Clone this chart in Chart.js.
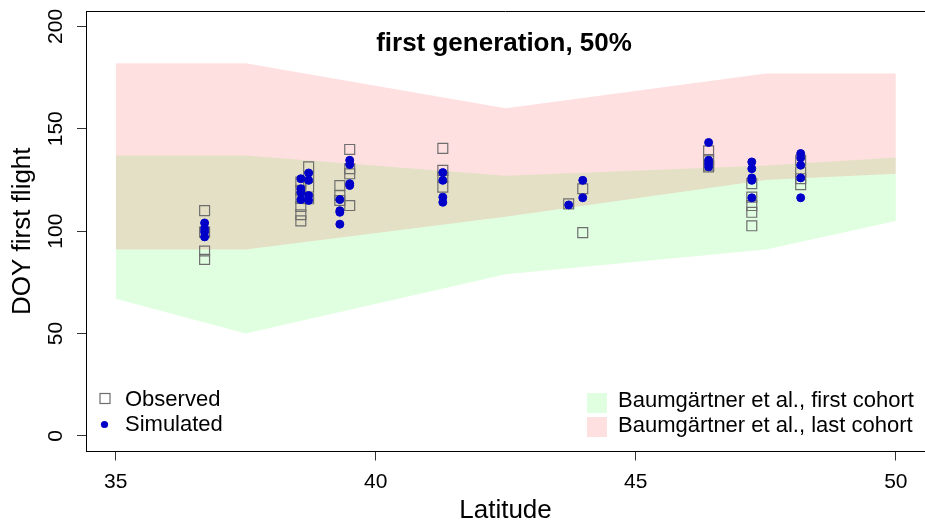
<!DOCTYPE html>
<html lang="en">
<head>
    <meta charset="UTF-8">
    <title>first generation, 50%</title>
    <script src="https://cdn.jsdelivr.net/npm/chart.js"></script>
    <style>
        body { margin: 0; background: #fff; }
        #wrap { width: 925px; height: 526px; position: relative; }
    </style>
</head>
<body>
    <div id="wrap"><canvas id="flightChart"></canvas></div>

    <script>
        // Baumgärtner et al. bands (latitude vs DOY)
        const bandLat = [35, 37.5, 42.5, 47.5, 50];
        const firstLow = [67, 50, 79, 91, 105];
        const firstHigh = [137, 137, 127, 132, 136];
        const lastLow = [91, 91, 107, 125, 128];
        const lastHigh = [182, 182, 160, 177, 177];

        // sites (latitude) with observed and simulated DOY
        const siteLat = [36.71, 38.56, 38.71, 39.31, 39.5, 41.29, 43.71, 43.98, 46.4, 47.23, 48.17];
        const observed = [
            [110, 99.5, 90.3, 86.2],
            [124, 120, 116, 112, 108, 105],
            [131.4, 126.5, 121.5, 115.8],
            [122.3, 117.4, 115],
            [139.9, 130.5, 128, 112.5],
            [140.4, 129.7, 126.4, 121.5],
            [113.3],
            [120.7, 99.3],
            [139.2, 135, 132.2, 131.4],
            [123.2, 116.6, 112.5, 109.2, 102.6],
            [134.6, 128.9, 125.6, 122.7]
        ];
        const simulated = [
            [104, 101.3, 99.7, 97.2],
            [125.6, 120.7, 119, 115.4],
            [128.4, 124.8, 117.4, 115],
            [115.4, 110, 109.2, 103.4],
            [134.6, 132.5, 123.2, 122.3],
            [128.6, 124.8, 116.6, 114.1],
            [112.8],
            [124.8, 116.3],
            [143.3, 134.6, 133, 131.4],
            [133.8, 130.5, 126, 124.8, 116.3],
            [137.9, 135.8, 132.2, 126, 116.3]
        ];

        const xTicks = [35, 40, 45, 50];
        const yTicks = [0, 50, 100, 150, 200];

        const FONT = "'Liberation Sans', Arial, sans-serif";
        const GREEN = "rgba(0, 255, 0, 0.12)";
        const RED = "rgba(255, 0, 0, 0.12)";

        const band = (ys) => bandLat.map((x, i) => ({ x: x, y: ys[i] }));
        const points = (groups) => {
            const out = [];
            groups.forEach((g, i) => g.forEach(v => out.push({ x: siteLat[i], y: v })));
            return out;
        };

        // title, legends and the top of the box, drawn inside the plot like R does
        const overlay = {
            id: "overlay",
            afterDraw(chart) {
                const ctx = chart.ctx;
                const a = chart.chartArea;
                ctx.save();
                ctx.strokeStyle = "#000";
                ctx.lineWidth = 1;
                ctx.beginPath();
                ctx.moveTo(a.left, a.top + 0.5);
                ctx.lineTo(a.right, a.top + 0.5);
                ctx.stroke();

                ctx.fillStyle = "#000";
                ctx.textBaseline = "middle";
                ctx.textAlign = "center";
                ctx.font = "bold 26px " + FONT;
                ctx.fillText("first generation, 50%", 504, 44);

                // left legend
                ctx.strokeStyle = "#6e6e6e";
                ctx.lineWidth = 1.2;
                ctx.strokeRect(100, 393.5, 10, 10);
                ctx.fillStyle = "#0000c8";
                ctx.beginPath();
                ctx.arc(104.5, 424.5, 3.6, 0, Math.PI * 2);
                ctx.fill();

                ctx.fillStyle = "#000";
                ctx.textAlign = "left";
                ctx.font = "22px " + FONT;
                ctx.fillText("Observed", 125, 400);
                ctx.fillText("Simulated", 125, 425);

                // right legend
                ctx.fillStyle = GREEN;
                ctx.fillRect(587, 393, 20, 20);
                ctx.fillStyle = RED;
                ctx.fillRect(587, 417, 20, 20);
                ctx.fillStyle = "#000";
                ctx.fillText("Baumgärtner et al., first cohort", 618, 401);
                ctx.fillText("Baumgärtner et al., last cohort", 618, 426);
                ctx.restore();
            }
        };

        const ctx = document.getElementById("flightChart").getContext("2d");
        new Chart(ctx, {
            type: "line",
            data: {
                datasets: [
                    {
                        label: "Simulated",
                        data: points(simulated),
                        showLine: false,
                        pointStyle: "circle",
                        pointRadius: 4,
                        pointBackgroundColor: "#0000c8",
                        pointBorderColor: "#0000c8",
                        pointBorderWidth: 1,
                        order: 0
                    },
                    {
                        label: "Observed",
                        data: points(observed),
                        showLine: false,
                        pointStyle: "rect",
                        pointRadius: 7,
                        pointBackgroundColor: "rgba(0,0,0,0)",
                        pointBorderColor: "#6e6e6e",
                        pointBorderWidth: 1.2,
                        order: 1
                    },
                    {
                        label: "last low",
                        data: band(lastLow),
                        borderWidth: 0,
                        pointRadius: 0,
                        fill: false,
                        order: 2
                    },
                    {
                        label: "Baumgärtner et al., last cohort",
                        data: band(lastHigh),
                        borderWidth: 0,
                        pointRadius: 0,
                        backgroundColor: RED,
                        fill: { target: 2 },
                        order: 3
                    },
                    {
                        label: "first low",
                        data: band(firstLow),
                        borderWidth: 0,
                        pointRadius: 0,
                        fill: false,
                        order: 4
                    },
                    {
                        label: "Baumgärtner et al., first cohort",
                        data: band(firstHigh),
                        borderWidth: 0,
                        pointRadius: 0,
                        backgroundColor: GREEN,
                        fill: { target: 4 },
                        order: 5
                    }
                ]
            },
            options: {
                responsive: true,
                maintainAspectRatio: false,
                animation: false,
                layout: {
                    autoPadding: false,
                    padding: { top: 11, right: 0, bottom: 0, left: 0 }
                },
                plugins: {
                    legend: { display: false },
                    tooltip: { enabled: false }
                },
                scales: {
                    x: {
                        type: "linear",
                        min: 34.43,
                        max: 50.56,
                        afterBuildTicks: (s) => { s.ticks = xTicks.map(v => ({ value: v })); },
                        afterFit: (s) => {
                            s.height = 74.5;
                            s.paddingLeft = 0;
                            s.paddingRight = 0;
                        },
                        grid: { drawOnChartArea: false, tickLength: 9, color: "#333" },
                        border: { display: true, color: "#000", width: 1 },
                        ticks: {
                            color: "#000",
                            font: { family: FONT, size: 21 },
                            padding: 9,
                            maxRotation: 0
                        },
                        title: {
                            display: true,
                            text: "Latitude",
                            color: "#000",
                            font: { family: FONT, size: 26 },
                            padding: { top: 0, bottom: 0 }
                        }
                    },
                    y: {
                        type: "linear",
                        min: -7.6,
                        max: 207.5,
                        afterBuildTicks: (s) => { s.ticks = yTicks.map(v => ({ value: v })); },
                        afterFit: (s) => {
                            s.width = 86;
                            s.paddingTop = 0;
                            s.paddingBottom = 0;
                        },
                        grid: { drawOnChartArea: false, tickLength: 9, color: "#333" },
                        border: { display: true, color: "#000", width: 1 },
                        ticks: {
                            color: "#000",
                            font: { family: FONT, size: 21 },
                            padding: 3,
                            minRotation: 90,
                            maxRotation: 90,
                            crossAlign: "center"
                        },
                        title: {
                            display: true,
                            text: "DOY first flight",
                            color: "#000",
                            font: { family: FONT, size: 26 },
                            padding: { top: 7, bottom: 0 }
                        }
                    }
                }
            },
            plugins: [overlay]
        });
    </script>
</body>
</html>
